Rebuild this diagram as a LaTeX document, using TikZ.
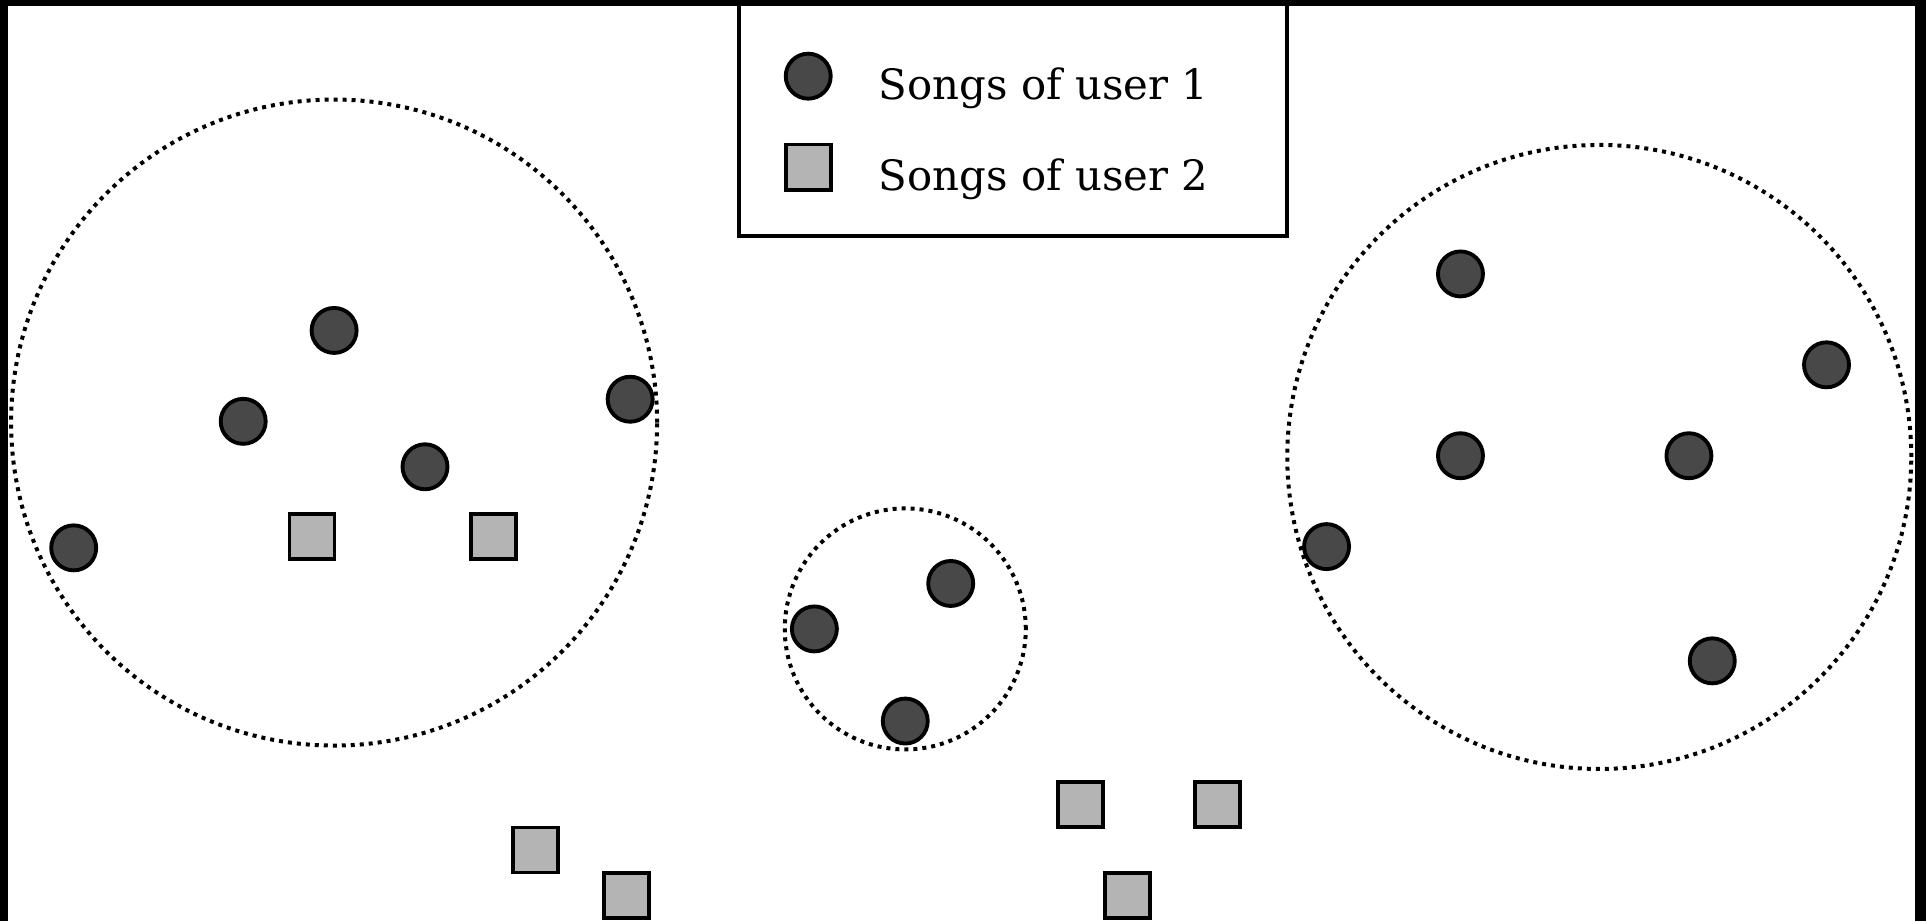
\documentclass[tikz,border=0pt]{standalone}
\usepackage{fontspec}
\setmainfont{DejaVu Serif}
\definecolor{songdark}{HTML}{484848}
\definecolor{songlight}{HTML}{B4B4B4}
\tikzset{
song1/.style = {circle, draw, fill=songdark, line width=1.1pt,
                minimum size=4.5mm, inner sep=0pt},
song2/.style = {rectangle, draw, fill=songlight, line width=1.1pt,
                minimum size=4.5mm, inner sep=0pt},
cluster/.style = {circle, draw, line width=0.4mm,
                  dash pattern=on 0.4mm off 0.5mm, inner sep=0pt},
legendbox/.style = {draw, line width=1.1pt, minimum width=54.8mm,
                    minimum height=23.3mm, inner sep=0pt},
label/.style = {anchor=base west, inner sep=0pt,
                font=\fontsize{11.9}{14}\selectfont}
}

\begin{document}
\begin{tikzpicture}[x=0.12283mm, y=-0.12283mm]
    \useasboundingbox (0,0) rectangle (1568,750);

    % clusters
    \node [cluster, minimum size=64.6mm, name=cla] at (272,344) {};
    \node [cluster, minimum size=24.1mm, name=clb] at (737,512) {};
    \node [cluster, minimum size=62.4mm, name=clc] at (1302,372) {};

    % songs of user 1
    \node [song1, name=a1] at (272,269) {};
    \node [song1, name=a2] at (198,343) {};
    \node [song1, name=a3] at (346,380) {};
    \node [song1, name=a4] at (513,325) {};
    \node [song1, name=a5] at (60,446) {};
    \node [song1, name=b1] at (663,512) {};
    \node [song1, name=b2] at (774,475) {};
    \node [song1, name=b3] at (737,587) {};
    \node [song1, name=c1] at (1189,223) {};
    \node [song1, name=c2] at (1487,297) {};
    \node [song1, name=c3] at (1189,371) {};
    \node [song1, name=c4] at (1375,371) {};
    \node [song1, name=c5] at (1080,445) {};
    \node [song1, name=c6] at (1394,538) {};

    % songs of user 2
    \node [song2, name=s1] at (254,437) {};
    \node [song2, name=s2] at (402,437) {};
    \node [song2, name=s3] at (436,692) {};
    \node [song2, name=s4] at (510,729) {};
    \node [song2, name=s5] at (880,655) {};
    \node [song2, name=s6] at (991,655) {};
    \node [song2, name=s7] at (918,729) {};

    % legend
    \node [legendbox, name=legend] at (824.5,97) {};
    \node [song1, name=leg1] at (658,62) {};
    \node [song2, name=leg2] at (658,136) {};
    \node [label, name=txt1] at (715,81) {Songs of user 1};
    \node [label, name=txt2] at (715,155) {Songs of user 2};

    % frame
    \fill [black] (0,0) rectangle (1568,5);
    \fill [black] (0,0) rectangle (6.5,750);
    \fill [black] (1559,0) rectangle (1568,750);
\end{tikzpicture}
\end{document}
